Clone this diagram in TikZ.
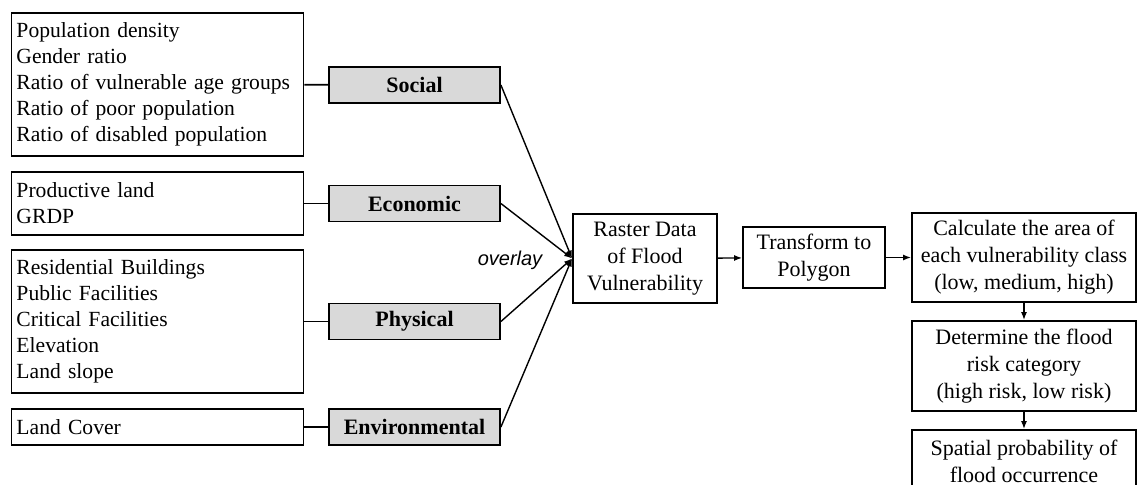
\documentclass[tikz,border=0pt]{standalone}
\usepackage{fontspec}
\setmainfont{Liberation Serif}
\newfontfamily\labelfont{Liberation Sans}
\usetikzlibrary{arrows.meta}

\begin{document}
\begin{tikzpicture}[x=0.5pt, y=-0.5pt,
    every node/.style={font=\fontsize{11}{13.5}\selectfont},
    listbox/.style={draw, line width=0.9pt, align=left, text width=141pt, inner xsep=2.5pt,
        font=\fontsize{10.8}{13}\selectfont},
    factor/.style={draw, line width=0.9pt, fill=black!15, minimum width=85.5pt,
        minimum height=18pt, font=\fontsize{11}{13}\selectfont\bfseries},
    stepbox/.style={draw, line width=0.9pt, align=center, inner sep=0pt},
    flow/.style={-{Latex[length=4pt,width=3pt]}, line width=0.7pt}
]
  \useasboundingbox (0,0) rectangle (1137,484);

% indicator lists
  \node [listbox, minimum height=71.5pt] (soclist) at (157.5,84.5)
    {Population density\\Gender ratio\\Ratio of vulnerable age groups\\Ratio of poor population\\Ratio of disabled population};
  \node [listbox, minimum height=31.5pt] (ecolist) at (157.5,203.5)
    {Productive land\\GRDP};
  \node [listbox, minimum height=71.5pt] (phylist) at (157.5,321.5)
    {Residential Buildings\\Public Facilities\\Critical Facilities\\Elevation\\Land slope};
  \node [listbox, minimum height=18pt] (envlist) at (157.5,427)
    {Land Cover};

% vulnerability factors
  \node [factor] (social) at (414.5,85) {Social};
  \node [factor] (economic) at (414.5,203.5) {Economic};
  \node [factor] (physical) at (414.5,321.5) {Physical};
  \node [factor] (environmental) at (414.5,427) {Environmental};

  \draw [line width=0.9pt] (soclist) -- (social);
  \draw [line width=0.9pt] (ecolist) -- (economic);
  \draw [line width=0.9pt] (phylist) -- (physical);
  \draw [line width=0.9pt] (envlist) -- (environmental);

% processing steps
  \node [stepbox, minimum width=72pt, minimum height=44.5pt] (raster) at (645,258.5)
    {Raster Data\\of Flood\\Vulnerability};
  \node [stepbox, minimum width=71pt, minimum height=30.5pt] (transform) at (814,257.5)
    {Transform to\\Polygon};
  \node [stepbox, minimum width=112pt, minimum height=44.5pt] (area) at (1024,257.5)
    {Calculate the area of\\each vulnerability class\\(low, medium, high)};
  \node [stepbox, minimum width=112pt, minimum height=45pt] (category) at (1024,366)
    {Determine the flood\\risk category\\ (high risk, low risk)};
  \node [stepbox, minimum width=112pt, minimum height=31pt] (probability) at (1024,461)
    {Spatial probability of\\flood occurrence};

  \node [font=\labelfont\itshape\fontsize{10}{12}\selectfont] (overlay) at (510,260) {overlay};

  \draw [flow] (social.east) -- (raster.west);
  \draw [flow] (economic.east) -- (raster.west);
  \draw [flow] (physical.east) -- (raster.west);
  \draw [flow] (environmental.east) -- (raster.west);

  \draw [flow] (raster) -- (transform);
  \draw [flow] (transform) -- (area);
  \draw [flow] (area) -- (category);
  \draw [flow] (category) -- (probability);

\end{tikzpicture}
\end{document}
